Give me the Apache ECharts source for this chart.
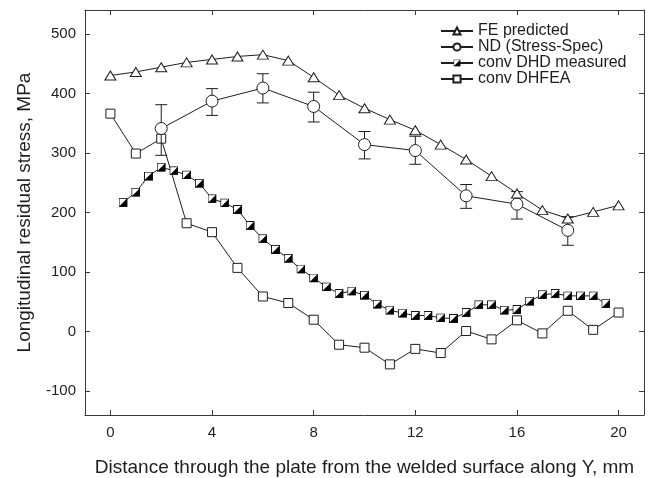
<!DOCTYPE html>
<html><head><meta charset="utf-8">
<script src="https://cdn.jsdelivr.net/npm/echarts@6/dist/echarts.min.js"></script>
<style>html,body{margin:0;padding:0;background:#fff}#c{width:649px;height:478px}</style>
</head><body><div id="c"></div>
<script>
// ---- data ----
const feX = [0,1,2,3,4,5,6,7,8,9,10,11,12,13,14,15,16,17,18,19,20];
const feValues = [430,436,444,452,457,462,465,455,427,397,375,356,338,314,289,261,232,204,190,201,212];

const ndX = [2,4,6,8,10,12,14,16,18];
const ndValues = [341,387,409,378,314,304,228,214,170];
const ndLow  = [296,363,384,352,290,281,207,189,145];
const ndHigh = [381,408,433,402,336,328,247,235,193];

const dhdX = [0.5,1,1.5,2,2.5,3,3.5,4,4.5,5,5.5,6,6.5,7,7.5,8,8.5,9,9.5,10,
              10.5,11,11.5,12,12.5,13,13.5,14,14.5,15,15.5,16,16.5,17,17.5,18,18.5,19,19.5];
const dhdValues = [217,234,261,276,270,263,249,223,216,205,178,156,138,123,105,90,75,64,68,61,
                   46,36,31,27,27,23,22,32,45,45,36,37,51,62,64,60,60,60,47];

const dhfeaX = [0,1,2,3,4,5,6,7,8,9,10,11,12,13,14,15,16,17,18,19,20];
const dhfeaValues = [366,299,324,182,167,107,59,48,20,-22,-27,-55,-29,-36,1,-13,19,-3,35,3,32];

const xTicks = [0,4,8,12,16,20];
const yTicks = [-100,0,100,200,300,400,500];

const seriesNames = ['FE predicted','ND (Stress-Spec)','conv DHD measured','conv DHFEA'];
const xTitle = 'Distance through the plate from the welded surface along Y, mm';
const yTitle = 'Longitudinal residual stress, MPa';

// ---- styling ----
const INK = '#1e1e1e';
const FRAME = '#3a3a3a';
const FONT = '"Liberation Sans", Arial, sans-serif';

const halfSvg = "<svg xmlns='http://www.w3.org/2000/svg' width='20' height='20' viewBox='0 0 20 20'>" +
  "<rect x='1' y='1' width='18' height='18' fill='white' stroke='black' stroke-width='2'/>" +
  "<path d='M19 1 L19 19 L1 19 Z' fill='black'/></svg>";
const halfSymbol = 'image://data:image/svg+xml;charset=utf-8,' + encodeURIComponent(halfSvg);

const zip = (xs, ys) => xs.map((x, i) => [x, ys[i]]);

function xAxisCfg(pos, showLabels) {
  return {
    type: 'value', position: pos, min: -1, max: 21,
    axisLine: { show: true, onZero: false, lineStyle: { color: FRAME, width: 1 } },
    axisTick: { show: true, inside: true, length: 5, customValues: xTicks, lineStyle: { color: FRAME } },
    axisLabel: { show: showLabels, customValues: xTicks, margin: 10, color: INK, fontSize: 15, fontFamily: FONT },
    splitLine: { show: false },
    name: showLabels ? xTitle : '', nameLocation: 'middle', nameGap: 43,
    nameTextStyle: { color: INK, fontSize: 19, fontFamily: FONT }
  };
}
function yAxisCfg(pos, showLabels) {
  return {
    type: 'value', position: pos, min: -140, max: 540,
    axisLine: { show: true, onZero: false, lineStyle: { color: FRAME, width: 1 } },
    axisTick: { show: true, inside: true, length: 5, customValues: yTicks, lineStyle: { color: FRAME } },
    axisLabel: { show: showLabels, customValues: yTicks, margin: 9, color: INK, fontSize: 15, fontFamily: FONT },
    splitLine: { show: false },
    name: showLabels ? yTitle : '', nameLocation: 'middle', nameGap: 51,
    nameTextStyle: { color: INK, fontSize: 19, fontFamily: FONT }
  };
}

const lineBase = {
  type: 'line', xAxisIndex: 0, yAxisIndex: 0,
  lineStyle: { color: INK, width: 1 },
  itemStyle: { color: '#fff', borderColor: INK, borderWidth: 1 },
  showSymbol: true, emphasis: { disabled: true }
};

const option = {
  animation: false,
  backgroundColor: '#fff',
  grid: { left: 85, top: 10, width: 559, height: 405, containLabel: false, outerBoundsMode: 'none' },
  xAxis: [xAxisCfg('bottom', true), xAxisCfg('top', false)],
  yAxis: [yAxisCfg('left', true), yAxisCfg('right', false)],
  legend: {
    orient: 'vertical', left: 435, top: 18,
    itemWidth: 32, itemHeight: 9, itemGap: 0,
    data: seriesNames,
    textStyle: { color: INK, fontSize: 16, fontFamily: FONT, lineHeight: 15.7 },
    selectedMode: false
  },
  series: [
    Object.assign({}, lineBase, {
      name: seriesNames[3], data: zip(dhfeaX, dhfeaValues),
      symbol: 'rect', symbolSize: 9, z: 2
    }),
    Object.assign({}, lineBase, {
      name: seriesNames[2], data: zip(dhdX, dhdValues),
      symbol: halfSymbol, symbolSize: 9, z: 3,
      itemStyle: { color: INK, borderColor: INK, borderWidth: 0 }
    }),
    {
      type: 'custom', name: 'ndErr', z: 4,
      data: ndX.map((x, i) => [x, ndLow[i], ndHigh[i]]),
      encode: { x: 0, y: [1, 2] },
      renderItem: function (params, api) {
        const x = api.value(0);
        const lo = api.coord([x, api.value(1)]);
        const hi = api.coord([x, api.value(2)]);
        const hw = 6;
        const st = { stroke: INK, lineWidth: 1 };
        return { type: 'group', children: [
          { type: 'line', shape: { x1: lo[0], y1: lo[1], x2: hi[0], y2: hi[1] }, style: st },
          { type: 'line', shape: { x1: lo[0] - hw, y1: lo[1], x2: lo[0] + hw, y2: lo[1] }, style: st },
          { type: 'line', shape: { x1: hi[0] - hw, y1: hi[1], x2: hi[0] + hw, y2: hi[1] }, style: st }
        ]};
      },
      silent: true
    },
    Object.assign({}, lineBase, {
      name: seriesNames[1], data: zip(ndX, ndValues),
      symbol: 'circle', symbolSize: 12, z: 5
    }),
    Object.assign({}, lineBase, {
      name: seriesNames[0], data: zip(feX, feValues),
      symbol: 'triangle', symbolSize: [11, 9], z: 6
    })
  ]
};

const chart = echarts.init(document.getElementById('c'), null, { renderer: 'canvas' });
chart.setOption(option);
</script></body></html>
